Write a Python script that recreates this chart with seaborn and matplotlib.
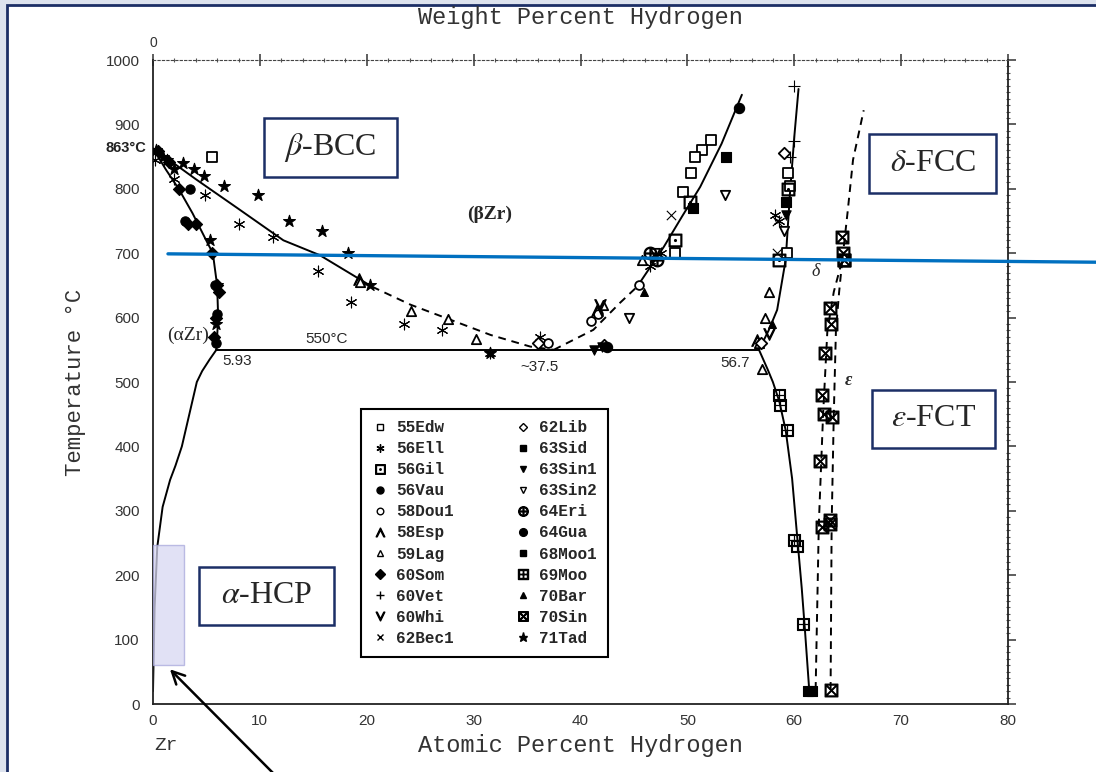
import matplotlib
matplotlib.use("Agg")
import matplotlib.pyplot as plt
import seaborn as sns
import numpy as np
from matplotlib.patches import Rectangle
from matplotlib.lines import Line2D

# phase boundaries (atomic % H, temperature C)
ab_x = [0, 1.2, 2.4, 3.7, 5.1, 5.6, 6.0, 6.1, 5.93]
ab_t = [863, 830, 800, 762, 716, 700, 650, 600, 550]
beta_left_x = [0, 4.0, 7.9, 12.2, 15.6, 20.5]
beta_left_t = [863, 815, 770, 720, 697, 648]
beta_left_dash_x = [20.5, 24.1, 27.3, 31.6, 35.3, 37.5]
beta_left_dash_t = [648, 620, 600, 573, 555, 550]
beta_right_dash_x = [37.5, 41.2, 43.7, 45.3]
beta_right_dash_t = [550, 581, 623, 648]
beta_right_x = [45.3, 47.8, 49.5, 51.2, 53.2, 55.1]
beta_right_t = [648, 710, 757, 803, 870, 946]
delta_up_x = [56.7, 57.6, 58.4, 59.2, 59.6, 60.0, 60.4]
delta_up_t = [550, 580, 612, 690, 793, 880, 955]
delta_low_x = [56.7, 57.5, 58.0, 58.6, 59.2, 59.8, 60.3, 60.7, 61.0, 61.4]
delta_low_t = [550, 520, 500, 470, 425, 350, 255, 180, 115, 22]
alpha_x = [5.93, 5.3, 4.6, 4.1, 3.4, 2.7, 2.1, 1.6, 0.9, 0.4, 0.15, 0]
alpha_t = [550, 535, 517, 500, 450, 400, 370, 348, 306, 244, 150, 20]
eut_x = [5.93, 56.7]
eut_t = [550, 550]
de_left_x = [62.0, 62.3, 62.7, 63.1, 63.7, 64.5]
de_left_t = [22, 280, 450, 580, 640, 690]
de_right_x = [63.4, 63.5, 63.7, 63.9, 64.2, 64.5]
de_right_t = [22, 280, 450, 580, 640, 690]
de_top_x = [64.5, 65.0, 65.5, 66.5]
de_top_t = [690, 765, 845, 922]

# experimental points per source
edw_x = [5.5, 52.2, 51.4, 50.7, 50.3, 49.6, 48.8, 59.4, 59.6, 59.3]
edw_t = [849, 876, 860, 849, 824, 795, 700, 824, 805, 700]
ell_x = [0.2, 2.0, 4.9, 8.0, 11.2, 15.4, 18.5, 23.5, 27.0, 31.5, 36.2, 46.5, 47.5, 58.6, 58.2]
ell_t = [845, 815, 790, 745, 725, 672, 625, 590, 580, 545, 570, 680, 700, 750, 760]
gil_x = [48.8, 50.2, 59.4, 58.6, 64.7]
gil_t = [720, 780, 800, 690, 690]
vau_x = [3.0, 3.5, 5.8, 6.0, 5.9]
vau_t = [750, 800, 650, 605, 560]
dou_x = [41.0, 45.5, 41.6, 37.0]
dou_t = [595, 650, 605, 560]
esp_x = [19.3, 41.5, 56.5]
esp_t = [660, 612, 565]
lag_x = [19.4, 24.1, 27.6, 30.2, 42.1, 45.8, 56.7, 57.3, 57.6, 57.0]
lag_t = [655, 610, 598, 567, 620, 690, 560, 600, 640, 520]
som_x = [0.5, 1.5, 2.4, 3.3, 4.0, 5.5, 6.0, 6.2, 5.9, 5.7]
som_t = [858, 842, 800, 745, 745, 700, 650, 640, 600, 570]
vet_x = [60.0, 60.0, 59.6]
vet_t = [960, 875, 850]
whi_x = [41.8, 57.6]
whi_t = [620, 575]
bec_x = [48.5, 58.4, 58.4]
bec_t = [760, 750, 700]
lib_x = [59.0, 36.0, 42.2, 56.9]
lib_t = [855, 560, 558, 560]
sid_x = [61.3, 61.7]
sid_t = [20, 20]
sin1_x = [41.3, 42.0, 59.2]
sin1_t = [550, 555, 760]
sin2_x = [53.5, 44.5, 47.0, 59.0]
sin2_t = [790, 600, 700, 735]
eri_x = [47.2, 46.5]
eri_t = [690, 700]
gua_x = [54.8, 42.5]
gua_t = [925, 555]
moo1_x = [53.6, 50.5, 59.2]
moo1_t = [850, 770, 780]
moo_x = [58.6, 58.7, 59.3, 60.0, 60.3, 60.8]
moo_t = [480, 465, 425, 255, 245, 125]
bar_x = [57.9, 45.9]
bar_t = [590, 640]
sin_x = [64.5, 64.6, 64.7, 63.3, 63.4, 62.9, 62.6, 62.8, 63.5, 62.4, 62.6, 63.3, 63.3, 63.4]
sin_t = [725, 700, 690, 615, 590, 545, 480, 450, 445, 378, 275, 280, 285, 22]
tad_x = [0.3, 0.9, 1.3, 2.0, 2.8, 3.8, 4.8, 6.6, 9.8, 12.7, 15.8, 18.2, 20.3, 5.3, 6.0, 5.9, 31.5]
tad_t = [860, 850, 845, 830, 840, 830, 820, 805, 790, 750, 735, 700, 650, 720, 650, 590, 545]

sources = ["55Edw", "56Ell", "56Gil", "56Vau", "58Dou1", "58Esp", "59Lag", "60Som",
           "60Vet", "60Whi", "62Bec1", "62Lib", "63Sid", "63Sin1", "63Sin2", "64Eri",
           "64Gua", "68Moo1", "69Moo", "70Bar", "70Sin", "71Tad"]
xs = [edw_x, ell_x, gil_x, vau_x, dou_x, esp_x, lag_x, som_x, vet_x, whi_x, bec_x,
      lib_x, sid_x, sin1_x, sin2_x, eri_x, gua_x, moo1_x, moo_x, bar_x, sin_x, tad_x]
ts = [edw_t, ell_t, gil_t, vau_t, dou_t, esp_t, lag_t, som_t, vet_t, whi_t, bec_t,
      lib_t, sid_t, sin1_t, sin2_t, eri_t, gua_t, moo1_t, moo_t, bar_t, sin_t, tad_t]

# marker, open?, size
styles = [("s", True, 42), ((6, 2, 0), False, 60), (r"$\boxdot$", False, 85),
          ("o", False, 45), ("o", True, 40), (r"$\wedge$", False, 70),
          ("^", True, 45), ("D", False, 38), ("+", False, 65), (r"$\vee$", False, 70),
          ("x", False, 45), ("D", True, 34), ("s", False, 45), ("v", False, 45),
          ("v", True, 45), (r"$\oplus$", False, 85), ("o", False, 55),
          ("s", False, 45), (r"$\boxplus$", False, 85), ("^", False, 32),
          (r"$\boxtimes$", False, 85), ("*", False, 80)]

sns.set_style("white")
plt.rcParams["mathtext.fontset"] = "stix"
plt.rcParams["font.family"] = ["Liberation Sans", "DejaVu Sans"]

fig = plt.figure(figsize=(10.96, 7.72), dpi=100)
fig.patches.append(Rectangle((0, 0), 1, 1, transform=fig.transFigure, fc="#dde3ee",
                             ec="none", zorder=-10))
fig.patches.append(Rectangle((7 / 1096, -0.02), 1.1, (772 - 5) / 772 + 0.02,
                             transform=fig.transFigure, fc="white", ec="#1c2f66",
                             lw=2, zorder=-9))
ax = fig.add_axes([153 / 1096, 68 / 772, 855 / 1096, 644 / 772])
ax.patch.set_alpha(0)

solid = [(ab_x, ab_t), (beta_left_x, beta_left_t), (beta_right_x, beta_right_t),
         (delta_up_x, delta_up_t), (delta_low_x, delta_low_t), (alpha_x, alpha_t),
         (eut_x, eut_t)]
dashed = [(beta_left_dash_x, beta_left_dash_t), (beta_right_dash_x, beta_right_dash_t),
          (de_left_x, de_left_t), (de_right_x, de_right_t), (de_top_x, de_top_t)]
for lx, lt in solid:
    sns.lineplot(x=lx, y=lt, sort=False, estimator=None, color="black", lw=1.4, ax=ax)
for lx, lt in dashed:
    sns.lineplot(x=lx, y=lt, sort=False, estimator=None, color="black", lw=1.4,
                 linestyle=(0, (4, 3)), ax=ax)

handles = []
for name, px, pt, (mk, hollow, sz) in zip(sources, xs, ts, styles):
    if hollow:
        ax.scatter(px, pt, marker=mk, s=sz, facecolors="white", edgecolors="black",
                   linewidths=1.3, zorder=3)
    else:
        sns.scatterplot(x=px, y=pt, marker=mk, s=sz, color="black", edgecolor="black",
                        linewidth=0.8, ax=ax, zorder=3)
    handles.append(Line2D([], [], ls="none", marker=mk, color="black",
                          mfc="white" if hollow else "black", mec="black",
                          markersize=np.sqrt(sz) * 0.75, label=name))

ax.set_xlim(0, 80)
ax.set_ylim(0, 1000)
ax.set_xticks(np.arange(0, 81, 10))
ax.set_yticks(np.arange(0, 1001, 100))
ax.set_xticks(np.arange(0, 81, 2), minor=True)
ax.set_yticks(np.arange(0, 1001, 10), minor=True)
ax.tick_params(axis="both", which="major", labelsize=11, labelcolor="#333333",
               color="#333333", width=1.1)
ax.tick_params(axis="y", which="major", direction="out", length=6, right=True)
ax.tick_params(axis="x", which="major", direction="inout", length=8, top=True)
ax.tick_params(axis="both", which="minor", direction="inout", length=3, width=0.8,
               color="#555555", right=True, top=True)
for side in ["left", "bottom", "right"]:
    ax.spines[side].set_color("#222222")
    ax.spines[side].set_linewidth(1.3)
ax.spines["top"].set_linestyle((0, (2, 2)))
ax.spines["top"].set_color("#444444")

mono = ["Liberation Mono", "DejaVu Sans Mono"]
ax.set_xlabel("Atomic Percent Hydrogen", family=mono, fontsize=17, color="#333333",
              labelpad=4)
ax.set_ylabel("Temperature \u00b0C", family=mono, fontsize=16, color="#333333",
              labelpad=14)
fig.text(0.53, 0.977, "Weight Percent Hydrogen", family=mono, fontsize=17,
         color="#333333", ha="center", va="center")
ax.text(0, 1027, "0", fontsize=10, color="#333333", ha="center", va="center")
ax.text(1.2, -65, "Zr", family=mono, fontsize=14, color="#333333", ha="center", va="center")
ax.text(-0.6, 863, "863\u00b0C", fontsize=10.5, weight="bold", color="#222222",
        ha="right", va="center")

serif = ["Liberation Serif", "DejaVu Serif"]
ax.text(31.5, 760, "(\u03b2Zr)", family=serif, fontsize=14, weight="bold", ha="center", va="center")
ax.text(3.3, 573, "(\u03b1Zr)", family=serif, fontsize=14, ha="center", va="center")
ax.text(16.2, 567, "550\u00b0C", fontsize=11, ha="center", va="center")
ax.text(7.9, 533, "5.93", fontsize=11, ha="center", va="center")
ax.text(36.2, 523, "~37.5", fontsize=11, ha="center", va="center")
ax.text(54.5, 530, "56.7", fontsize=11, ha="center", va="center")
ax.text(62.0, 671, "\u03b4", family=serif, fontsize=13, style="italic", ha="center", va="center")
ax.text(65.1, 503, "\u03b5", family=serif, fontsize=13, style="italic", weight="bold",
        ha="center", va="center")

# phase name boxes
boxes = [((10.4, 818), 12.4, 92, r"$\beta$-BCC"), ((67.0, 793), 11.9, 92, r"$\delta$-FCC"),
         ((67.3, 398), 11.5, 90, r"$\varepsilon$-FCT"), ((4.3, 123), 12.6, 90, r"$\alpha$-HCP")]
for (bx, by), bw, bh, lab in boxes:
    ax.add_patch(Rectangle((bx, by), bw, bh, fc="white", ec="#1c2f66", lw=1.8, zorder=5))
    ax.text(bx + bw / 2, by + bh / 2, lab, family=serif, fontsize=23, ha="center",
            va="center", zorder=6)

ax.add_patch(Rectangle((0, 61), 2.9, 186, fc="#d8d8f2", ec="#a8a8dc", lw=1, alpha=0.75,
                       zorder=4))
ax.annotate("", xy=(1.4, 57), xytext=(11.4, -110), annotation_clip=False,
            arrowprops=dict(arrowstyle="->,head_length=0.9,head_width=0.45", lw=1.8,
                            color="black"))
ax.add_line(Line2D([1.4, 88.3], [699, 686], color="#0070c0", lw=2.4, clip_on=False,
                   zorder=7))

leg = ax.legend(handles=handles, ncol=2, loc="lower left",
                bbox_to_anchor=(0.243, 0.073, 0.289, 0.402), mode="expand",
                borderaxespad=0,
                prop={"family": mono, "size": 11.5, "weight": "bold"},
                frameon=True, fancybox=False, edgecolor="black", framealpha=1,
                labelspacing=0.38, handletextpad=0.5, borderpad=0.7, handlelength=1.0,
                columnspacing=1.0)
leg.get_frame().set_linewidth(1.5)

fig.savefig("out.png", dpi=100)
